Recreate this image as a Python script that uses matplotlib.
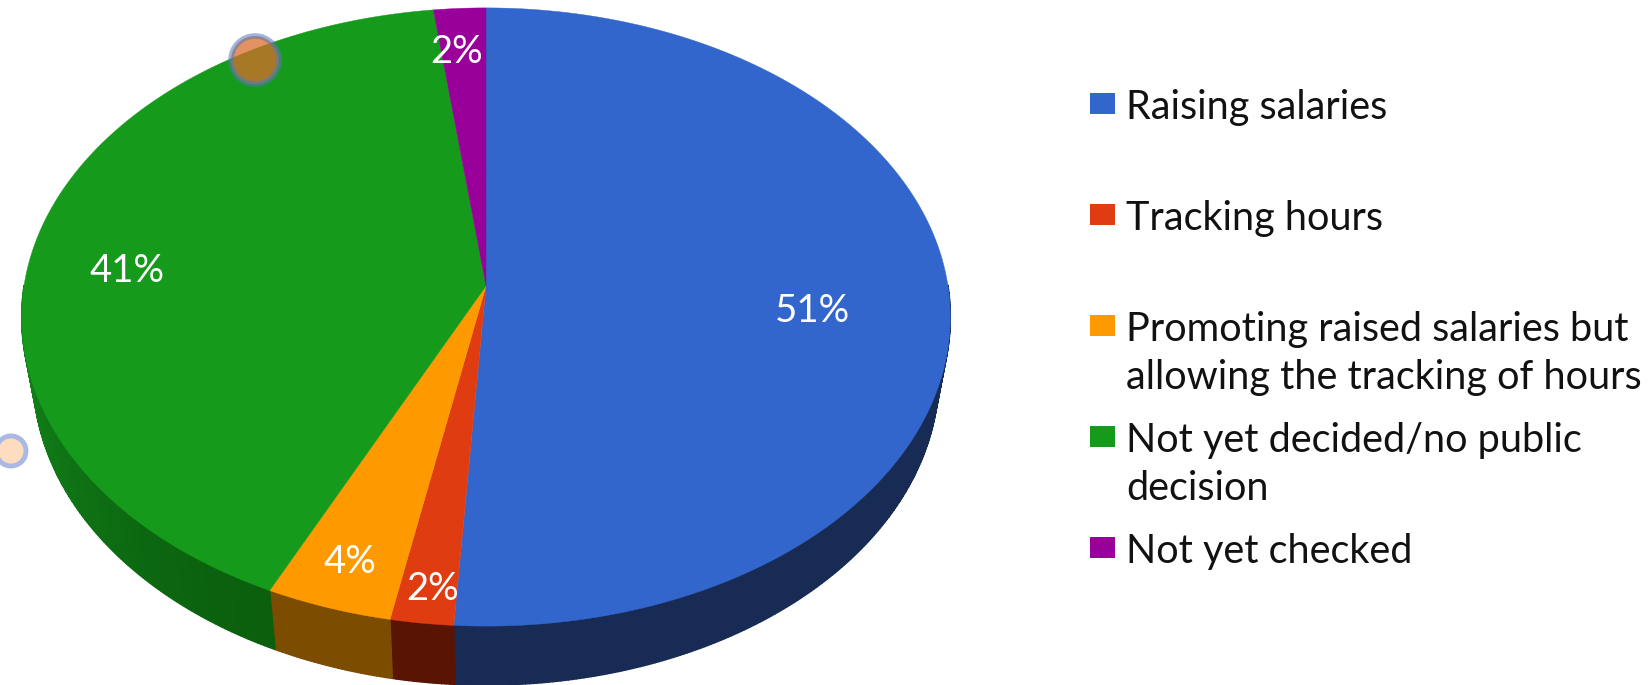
import numpy as np
import matplotlib
matplotlib.use("Agg")
import matplotlib.pyplot as plt
from matplotlib.patches import Circle, Polygon, Rectangle
from matplotlib.colors import to_rgb

matplotlib.rcParams['font.family'] = ['Lato', 'DejaVu Sans']

categories = ["Raising salaries", "Tracking hours",
              "Promoting raised salaries but\nallowing the tracking of hours",
              "Not yet decided/no public\ndecision", "Not yet checked"]
values = [51, 2, 4, 41, 2]
value_labels = ["51%", "2%", "4%", "41%", "2%"]
colors = ["#3366CC", "#E03C12", "#FF9900", "#159A1C", "#990099"]
wall_near = ["#172B55", "#5A1403", "#7C4D00", "#0A5C0C", "#4A004A"]
wall_far = ["#172B55", "#5A1403", "#7C4D00", "#118019", "#4A004A"]

# tilted disc: apex, scales and perspective strength
CX, CY = 486, 286
QX, QY, K = 462, 306, 0.1003
DEPTH = 59
WALL_SHRINK = 0.975


def project(theta, r=1.0):
    # theta runs clockwise from the top of the pie
    x = r * np.sin(theta)
    y = r * np.cos(theta)
    w = 1 + K * y
    return CX + QX * x / w, CY - QY * y / w


fig = plt.figure(figsize=(16.49, 6.85), dpi=100)
ax = fig.add_axes([0, 0, 1, 1])
ax.set_xlim(0, 1649)
ax.set_ylim(685, 0)
ax.axis("off")

edges = np.cumsum([0] + values) / sum(values) * 2 * np.pi

# side wall first, a thin strip per step so the shade can change along the rim
for i in range(len(values)):
    t = np.linspace(edges[i], edges[i + 1], max(int(values[i] * 8), 4))
    for a, b in zip(t[:-1], t[1:]):
        xa, ya = project(a)
        xb, yb = project(b)
        if ya < CY and yb < CY:
            continue
        quad = [(xa, ya), (xb, yb),
                (CX + (xb - CX) * WALL_SHRINK, yb + DEPTH),
                (CX + (xa - CX) * WALL_SHRINK, ya + DEPTH)]
        mid = (a + b) / 2
        # lighter towards the sides of the pie, darkest at the front
        f = min(abs(np.sin(mid)) ** 3, 1)
        c = np.array(to_rgb(wall_near[i])) * (1 - f) + np.array(to_rgb(wall_far[i])) * f
        ax.add_patch(Polygon(quad, closed=True, facecolor=c, edgecolor=c, linewidth=1.0))

# top face
for i in range(len(values)):
    t = np.linspace(edges[i], edges[i + 1], 200)
    xs, ys = project(t)
    pts = np.column_stack([np.r_[CX, xs], np.r_[CY, ys]])
    ax.add_patch(Polygon(pts, closed=True, facecolor=colors[i], edgecolor=colors[i], linewidth=0.3))

# percentage labels
label_xy = [(812, 311), (433, 589), (350, 562), (127, 271), (457, 52)]
for txt, (x, y) in zip(value_labels, label_xy):
    ax.text(x, y, txt, color="white", fontsize=27.5, ha="center", va="center")

# legend drawn by hand because the row gaps are uneven
legend_y = [105, 216, 327, 438, 549]
for name, col, y in zip(categories, colors, legend_y):
    ax.add_patch(Rectangle((1090, y - 12), 25, 21, facecolor=col, edgecolor="none"))
    ax.text(1126, y - 16, name, color="#111111", fontsize=28.5, ha="left", va="top",
            linespacing=1.35)

# the two translucent markers sitting over the chart
ax.add_patch(Circle((255, 60), 24, facecolor="#D96F2C", alpha=0.75, edgecolor="none", zorder=5))
ax.add_patch(Circle((255, 60), 24, facecolor="none", edgecolor="#5577BB", alpha=0.55, linewidth=4, zorder=5))
ax.add_patch(Circle((11, 451), 15, facecolor="#FDDCC0", edgecolor="#A9B8E4", linewidth=3.5, zorder=5))

fig.savefig("out.png", dpi=100)
